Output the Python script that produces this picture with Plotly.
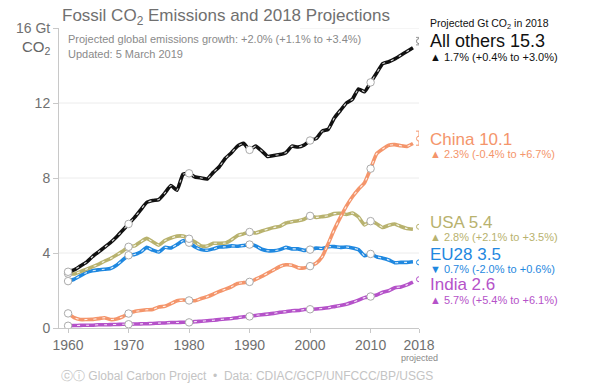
import plotly.graph_objects as go

years = list(range(1960, 2018))
decade_years = [1960, 1970, 1980, 1990, 2000, 2010]
proj_year = 2018

all_others = [3.0, 3.1, 3.3, 3.5, 3.8, 4.05, 4.3, 4.55, 4.85, 5.2,
              5.55, 5.9, 6.3, 6.7, 6.8, 6.85, 7.2, 7.6, 7.35, 8.2,
              8.25, 8.05, 8.0, 7.95, 8.3, 8.6, 9.05, 9.35, 9.7, 9.85,
              9.5, 9.7, 9.45, 9.15, 9.2, 9.25, 9.35, 9.7, 9.65, 9.75,
              10.0, 10.1, 10.5, 10.6, 11.2, 11.6, 12.0, 12.2, 12.75, 12.6,
              13.1, 13.6, 14.1, 14.2, 14.35, 14.55, 14.75, 14.95]
china = [0.78, 0.55, 0.45, 0.45, 0.46, 0.5, 0.55, 0.45, 0.48, 0.6,
         0.77, 0.88, 0.93, 0.97, 0.99, 1.12, 1.16, 1.3, 1.45, 1.49,
         1.47, 1.45, 1.57, 1.67, 1.8, 1.95, 2.07, 2.2, 2.37, 2.42,
         2.46, 2.6, 2.75, 2.93, 3.1, 3.28, 3.37, 3.35, 3.22, 3.2,
         3.3, 3.45, 3.8, 4.5, 5.25, 5.9, 6.5, 7.0, 7.4, 7.75,
         8.5, 9.3, 9.55, 9.75, 9.78, 9.72, 9.68, 9.84]
usa = [2.9, 2.88, 3.0, 3.13, 3.26, 3.39, 3.56, 3.7, 3.89, 4.09,
       4.33, 4.38, 4.6, 4.78, 4.6, 4.42, 4.66, 4.8, 4.9, 4.9,
       4.76, 4.58, 4.38, 4.37, 4.52, 4.52, 4.53, 4.7, 4.93, 5.02,
       5.12, 5.07, 5.17, 5.27, 5.36, 5.42, 5.6, 5.67, 5.72, 5.8,
       5.98, 5.9, 5.94, 5.99, 6.1, 6.12, 6.05, 6.13, 5.92, 5.5,
       5.7, 5.56, 5.36, 5.48, 5.55, 5.41, 5.31, 5.27]
eu28 = [2.5, 2.6, 2.78, 2.95, 3.05, 3.1, 3.13, 3.17, 3.35, 3.62,
        3.88, 3.92, 4.05, 4.3, 4.15, 4.05, 4.3, 4.27, 4.45, 4.65,
        4.55, 4.32, 4.18, 4.15, 4.22, 4.32, 4.33, 4.38, 4.36, 4.4,
        4.45, 4.38, 4.2, 4.12, 4.12, 4.18, 4.3, 4.22, 4.22, 4.14,
        4.18, 4.26, 4.24, 4.33, 4.34, 4.3, 4.32, 4.27, 4.18, 3.85,
        3.95, 3.8, 3.72, 3.63, 3.48, 3.5, 3.5, 3.53]
india = [0.12, 0.13, 0.14, 0.15, 0.15, 0.17, 0.17, 0.18, 0.19, 0.2,
         0.2, 0.21, 0.22, 0.23, 0.24, 0.26, 0.27, 0.29, 0.29, 0.31,
         0.3, 0.34, 0.36, 0.39, 0.41, 0.45, 0.48, 0.51, 0.55, 0.6,
         0.62, 0.67, 0.71, 0.74, 0.78, 0.84, 0.87, 0.92, 0.93, 0.99,
         1.0, 1.01, 1.04, 1.08, 1.14, 1.2, 1.27, 1.37, 1.49, 1.62,
         1.68, 1.76, 1.91, 1.99, 2.15, 2.19, 2.3, 2.45]

proj_values = {"All others": 15.3, "China": 10.1, "USA": 5.4, "EU28": 3.5, "India": 2.6}
proj_err_plus = {"All others": 0.2, "China": 0.4, "USA": 0.0, "EU28": 0.0, "India": 0.0}
proj_err_minus = {"All others": 0.2, "China": 0.35, "USA": 0.0, "EU28": 0.0, "India": 0.0}
growth_text = {
    "All others": "▲ 1.7% (+0.4% to +3.0%)",
    "China": "▲ 2.3% (-0.4% to +6.7%)",
    "USA": "▲ 2.8% (+2.1% to +3.5%)",
    "EU28": "▼ 0.7% (-2.0% to +0.6%)",
    "India": "▲ 5.7% (+5.4% to +6.1%)",
}

x_tickvals = [1960, 1970, 1980, 1990, 2000, 2010, 2018]
x_ticktext = ["1960", "1970", "1980", "1990", "2000", "2010", "2018"]
y_tickvals = [0, 4, 8, 12, 16]
y_ticktext = ["0", "4", "8", "12", "16 Gt"]

series = [
    ("India", india, "#b552c9"),
    ("EU28", eu28, "#1f88e0"),
    ("USA", usa, "#b8b26e"),
    ("China", china, "#f4956b"),
    ("All others", all_others, "#111111"),
]

FONT = "Liberation Sans, Arial, sans-serif"
fig = go.Figure()

for name, vals, col in series:
    fig.add_trace(go.Scatter(x=years, y=vals, mode="lines",
                             line=dict(color=col, width=3.6, shape="spline", smoothing=0.4),
                             hoverinfo="skip", showlegend=False))
    fig.add_trace(go.Scatter(x=years, y=vals, mode="lines",
                             line=dict(color="rgba(255,255,255,0.85)", width=1.1, dash="3px,6px",
                                       shape="spline", smoothing=0.4),
                             hoverinfo="skip", showlegend=False))

for name, vals, col in series:
    dv = [vals[years.index(y)] for y in decade_years]
    fig.add_trace(go.Scatter(x=decade_years, y=dv, mode="markers",
                             marker=dict(size=7.5, color="white", line=dict(color="#aaaaaa", width=1)),
                             hoverinfo="skip", showlegend=False))
    fig.add_trace(go.Scatter(
        x=[proj_year], y=[proj_values[name]], mode="markers",
        marker=dict(size=5, color="white", line=dict(color=col if name != "All others" else "#888", width=1)),
        error_y=dict(type="data", symmetric=False, array=[proj_err_plus[name]],
                     arrayminus=[proj_err_minus[name]], color=col if name != "All others" else "#999",
                     thickness=1, width=3, visible=proj_err_plus[name] > 0),
        hoverinfo="skip", showlegend=False))

L, R, T, B = 59, 183, 28, 60
W, H = 602, 388
pw, ph = W - L - R, H - T - B

def px(xp):
    return (xp - L) / pw

def py(yp):
    return (H - B - yp) / ph

shapes = []
for gv in [4, 8, 12]:
    shapes.append(dict(type="line", xref="paper", yref="y", x0=0, x1=1, y0=gv, y1=gv,
                       line=dict(color="#ececec", width=1), layer="below"))
shapes.append(dict(type="line", xref="paper", yref="y", x0=px(300), x1=1, y0=16, y1=16,
                   line=dict(color="#ececec", width=1), layer="below"))

ann = []
ann.append(dict(text="Fossil CO<sub>2</sub> Emissions and 2018 Projections", x=px(60), y=py(17),
                xref="paper", yref="paper", xanchor="left", yanchor="middle", showarrow=False,
                font=dict(size=17, color="#707070", family=FONT)))
ann.append(dict(text="CO<sub>2</sub>", x=px(53), y=py(47), xref="paper", yref="paper",
                xanchor="right", yanchor="middle", showarrow=False,
                font=dict(size=15, color="#666", family=FONT)))
ann.append(dict(text="Projected global emissions growth: +2.0% (+1.1% to +3.4%)", x=px(66), y=py(39),
                xref="paper", yref="paper", xanchor="left", yanchor="middle", showarrow=False,
                font=dict(size=11, color="#8a8a8a", family=FONT)))
ann.append(dict(text="Updated: 5 March 2019", x=px(66), y=py(54),
                xref="paper", yref="paper", xanchor="left", yanchor="middle", showarrow=False,
                font=dict(size=11, color="#8a8a8a", family=FONT)))
ann.append(dict(text="projected", x=proj_year, y=py(358), xref="x", yref="paper",
                xanchor="center", yanchor="middle", showarrow=False,
                font=dict(size=9, color="#888", family=FONT)))
ann.append(dict(text="ⓒⓘ Global Carbon Project  •  Data: CDIAC/GCP/UNFCCC/BP/USGS", x=px(59), y=py(376),
                xref="paper", yref="paper", xanchor="left", yanchor="middle", showarrow=False,
                font=dict(size=12, color="#c4c4c4", family=FONT)))
ann.append(dict(text="Projected Gt CO<sub>2</sub> in 2018", x=px(428), y=py(24),
                xref="paper", yref="paper", xanchor="left", yanchor="middle", showarrow=False,
                font=dict(size=10.5, color="#111", family=FONT)))

label_pos = {"All others": (41, 57), "China": (139, 154), "USA": (222, 237),
             "EU28": (254, 269), "India": (284, 300)}
for name, vals, col in series:
    y1, y2 = label_pos[name]
    tcol = "#111" if name == "All others" else col
    ann.append(dict(text=f"{name} {proj_values[name]}", x=px(428), y=py(y1),
                    xref="paper", yref="paper", xanchor="left", yanchor="middle", showarrow=False,
                    font=dict(size=18 if name == "All others" else 17, color=tcol, family=FONT)))
    ann.append(dict(text=growth_text[name], x=px(428), y=py(y2),
                    xref="paper", yref="paper", xanchor="left", yanchor="middle", showarrow=False,
                    font=dict(size=11, color=tcol, family=FONT)))

fig.update_layout(
    width=W, height=H, margin=dict(l=L, r=R, t=T, b=B, pad=0),
    paper_bgcolor="white", plot_bgcolor="white",
    font=dict(family=FONT, color="#666"),
    showlegend=False, shapes=shapes, annotations=ann,
    xaxis=dict(range=[1958.5, 2018], tickvals=x_tickvals, ticktext=x_ticktext,
               showgrid=False, zeroline=False, showline=True, linecolor="#c8c8c8", linewidth=1,
               ticks="outside", ticklen=4, tickcolor="#c8c8c8",
               tickfont=dict(size=14, color="#707070", family=FONT)),
    yaxis=dict(range=[0, 16], tickvals=y_tickvals, ticktext=y_ticktext,
               showgrid=False, zeroline=False, showline=True, linecolor="#c8c8c8", linewidth=1,
               ticks="outside", ticklen=5, tickcolor="#c8c8c8",
               tickfont=dict(size=14, color="#707070", family=FONT)),
)

fig.write_html("out.html", config={"displayModeBar": False},
               post_script="document.body.style.margin='0px';")
